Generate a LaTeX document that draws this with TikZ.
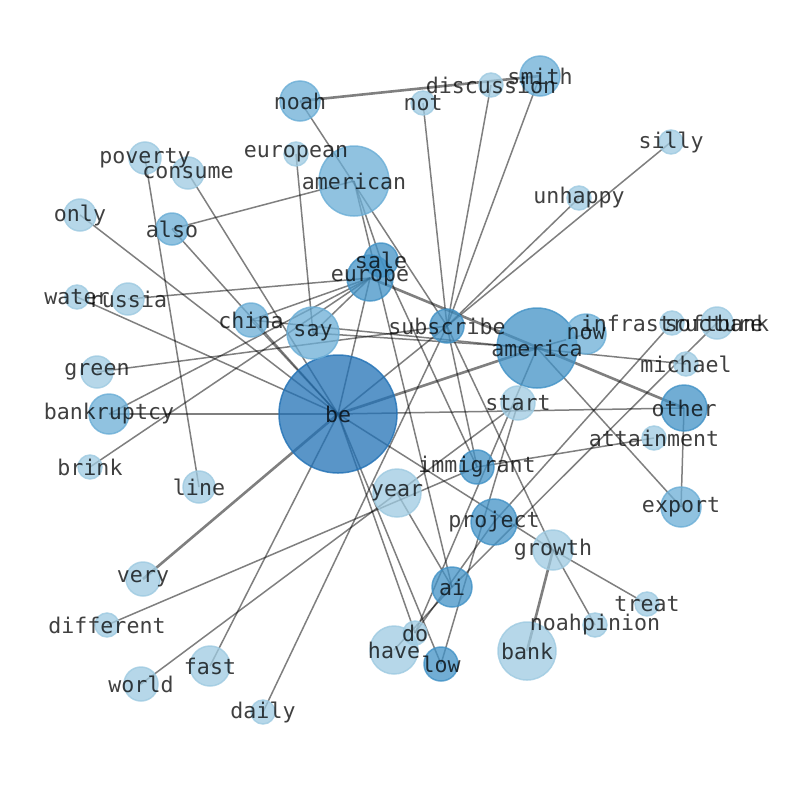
\documentclass[tikz,border=0pt]{standalone}
\usepackage{fontspec}
\newfontfamily\lblfont{DejaVu Sans Mono}
\pgfdeclarelayer{background}
\pgfsetlayers{background,main}
\definecolor{bdark}{HTML}{2171B5}
\definecolor{bmid}{HTML}{4292C6}
\definecolor{bsoft}{HTML}{6BAED6}
\definecolor{blight}{HTML}{9ECAE1}
\tikzset{
  wnode/.style={circle, inner sep=0pt, line width=1.5pt, fill opacity=0.75, draw opacity=0.8},
  wdark/.style={wnode, fill=bdark, draw=bdark},
  wmid/.style={wnode, fill=bmid, draw=bmid},
  wsoft/.style={wnode, fill=bsoft, draw=bsoft},
  wlight/.style={wnode, fill=blight, draw=blight},
  wlabel/.style={font=\lblfont\fontsize{21.6}{24}\selectfont, text=black, text opacity=0.75, inner sep=0pt},
  wedge/.style={draw=black, draw opacity=0.5, line width=1.5pt},
  wheavy/.style={wedge, line width=2.6pt}
}

\begin{document}
\begin{tikzpicture}[x=1pt,y=-1pt]
  \useasboundingbox (0,0) rectangle (794,790);
  % word circles
  \node[wdark,  minimum size=118] (be) at (338,414) {};
  \node[wmid,   minimum size=80] (america) at (537,348) {};
  \node[wsoft,  minimum size=70] (american) at (354,181) {};
  \node[wsoft,  minimum size=52] (say) at (313,333) {};
  \node[wmid,   minimum size=46] (europe) at (370,278) {};
  \node[wmid,   minimum size=34] (sale) at (381,260) {};
  \node[wmid,   minimum size=34] (subscribe) at (447,326) {};
  \node[wsoft,  minimum size=40] (now) at (586,334) {};
  \node[wsoft,  minimum size=34] (china) at (251,320) {};
  \node[wsoft,  minimum size=40] (noah) at (300,101) {};
  \node[wsoft,  minimum size=40] (smith) at (540,76) {};
  \node[wlight, minimum size=24] (discussion) at (491,85) {};
  \node[wlight, minimum size=24] (not) at (423,103) {};
  \node[wlight, minimum size=24] (european) at (296,154) {};
  \node[wlight, minimum size=32] (poverty) at (145,158) {};
  \node[wlight, minimum size=32] (consume) at (188,173) {};
  \node[wlight, minimum size=32] (only) at (80,215) {};
  \node[wsoft,  minimum size=32] (also) at (172,229) {};
  \node[wlight, minimum size=24] (silly) at (671,142) {};
  \node[wlight, minimum size=24] (unhappy) at (579,198) {};
  \node[wlight, minimum size=24] (water) at (77,297) {};
  \node[wlight, minimum size=32] (russia) at (128,299) {};
  \node[wlight, minimum size=32] (green) at (97,372) {};
  \node[wsoft,  minimum size=40] (bankruptcy) at (109,414) {};
  \node[wlight, minimum size=24] (brink) at (90,467) {};
  \node[wlight, minimum size=32] (line) at (199,487) {};
  \node[wlight, minimum size=24] (infrastructure) at (672,323) {};
  \node[wlight, minimum size=32] (softbank) at (717,323) {};
  \node[wlight, minimum size=24] (michael) at (686,364) {};
  \node[wmid,   minimum size=46] (other) at (684,408) {};
  \node[wlight, minimum size=34] (start) at (518,403) {};
  \node[wlight, minimum size=24] (attainment) at (654,438) {};
  \node[wmid,   minimum size=34] (immigrant) at (477,467) {};
  \node[wlight, minimum size=48] (year) at (397,493) {};
  \node[wmid,   minimum size=46] (project) at (494,522) {};
  \node[wsoft,  minimum size=40] (export) at (681,507) {};
  \node[wlight, minimum size=40] (growth) at (553,550) {};
  \node[wmid,   minimum size=40] (ai) at (452,587) {};
  \node[wlight, minimum size=24] (treat) at (647,604) {};
  \node[wlight, minimum size=24] (noahpinion) at (595,625) {};
  \node[wlight, minimum size=34] (very) at (143,579) {};
  \node[wlight, minimum size=24] (different) at (107,625) {};
  \node[wlight, minimum size=24] (do) at (415,633) {};
  \node[wlight, minimum size=48] (have) at (394,650) {};
  \node[wmid,   minimum size=34] (low) at (441,664) {};
  \node[wlight, minimum size=58] (bank) at (527,651) {};
  \node[wlight, minimum size=40] (fast) at (210,666) {};
  \node[wlight, minimum size=34] (world) at (141,684) {};
  \node[wlight, minimum size=24] (daily) at (263,712) {};
  % links, under the circles
  \begin{pgfonlayer}{background}
    \draw[wheavy] (noah.center) -- (smith.center);
    \draw[wedge] (noah.center) -- (subscribe.center);
    \draw[wedge] (not.center) -- (subscribe.center);
    \draw[wedge] (discussion.center) -- (subscribe.center);
    \draw[wedge] (smith.center) -- (subscribe.center);
    \draw[wedge] (silly.center) -- (subscribe.center);
    \draw[wedge] (unhappy.center) -- (subscribe.center);
    \draw[wedge] (european.center) -- (say.center);
    \draw[wedge] (poverty.center) -- (line.center);
    \draw[wedge] (consume.center) -- (be.center);
    \draw[wedge] (only.center) -- (be.center);
    \draw[wedge] (also.center) -- (be.center);
    \draw[wedge] (also.center) -- (american.center);
    \draw[wedge] (water.center) -- (be.center);
    \draw[wedge] (russia.center) -- (europe.center);
    \draw[wedge] (china.center) -- (be.center);
    \draw[wedge] (china.center) -- (europe.center);
    \draw[wedge] (china.center) -- (michael.center);
    \draw[wedge] (green.center) -- (subscribe.center);
    \draw[wedge] (bankruptcy.center) -- (be.center);
    \draw[wedge] (bankruptcy.center) -- (europe.center);
    \draw[wedge] (brink.center) -- (europe.center);
    \draw[wheavy] (very.center) -- (be.center);
    \draw[wedge] (different.center) -- (immigrant.center);
    \draw[wedge] (world.center) -- (start.center);
    \draw[wedge] (fast.center) -- (be.center);
    \draw[wedge] (daily.center) -- (subscribe.center);
    \draw[wheavy] (be.center) -- (america.center);
    \draw[wedge] (be.center) -- (subscribe.center);
    \draw[wedge] (be.center) -- (europe.center);
    \draw[wedge] (be.center) -- (other.center);
    \draw[wedge] (be.center) -- (growth.center);
    \draw[wedge] (be.center) -- (low.center);
    \draw[wedge] (be.center) -- (do.center);
    \draw[wedge] (say.center) -- (europe.center);
    \draw[wedge] (say.center) -- (america.center);
    \draw[wheavy] (europe.center) -- (other.center);
    \draw[wedge] (american.center) -- (sale.center);
    \draw[wedge] (american.center) -- (ai.center);
    \draw[wedge] (sale.center) -- (immigrant.center);
    \draw[wedge] (subscribe.center) -- (immigrant.center);
    \draw[wedge] (subscribe.center) -- (growth.center);
    \draw[wedge] (growth.center) -- (noahpinion.center);
    \draw[wedge] (growth.center) -- (treat.center);
    \draw[wheavy] (growth.center) -- (bank.center);
    \draw[wedge] (america.center) -- (now.center);
    \draw[wedge] (america.center) -- (export.center);
    \draw[wedge] (other.center) -- (export.center);
    \draw[wedge] (immigrant.center) -- (attainment.center);
    \draw[wedge] (infrastructure.center) -- (project.center);
    \draw[wedge] (softbank.center) -- (ai.center);
    \draw[wedge] (year.center) -- (ai.center);
    \draw[wedge] (start.center) -- (low.center);
    \draw[wedge] (do.center) -- (america.center);
    \draw[wedge] (do.center) -- (project.center);
    \draw[wedge] (have.center) -- (ai.center);
  \end{pgfonlayer}
  % words
  \node[wlabel] (be-t) at (be) {be};
  \node[wlabel] (america-t) at (america) {america};
  \node[wlabel] (american-t) at (american) {american};
  \node[wlabel] (say-t) at (say) {say};
  \node[wlabel] (europe-t) at (europe) {europe};
  \node[wlabel] (sale-t) at (sale) {sale};
  \node[wlabel] (subscribe-t) at (subscribe) {subscribe};
  \node[wlabel] (now-t) at (now) {now};
  \node[wlabel] (china-t) at (china) {china};
  \node[wlabel] (noah-t) at (noah) {noah};
  \node[wlabel] (smith-t) at (smith) {smith};
  \node[wlabel] (discussion-t) at (discussion) {discussion};
  \node[wlabel] (not-t) at (not) {not};
  \node[wlabel] (european-t) at (european) {european};
  \node[wlabel] (poverty-t) at (poverty) {poverty};
  \node[wlabel] (consume-t) at (consume) {consume};
  \node[wlabel] (only-t) at (only) {only};
  \node[wlabel] (also-t) at (also) {also};
  \node[wlabel] (silly-t) at (silly) {silly};
  \node[wlabel] (unhappy-t) at (unhappy) {unhappy};
  \node[wlabel] (water-t) at (water) {water};
  \node[wlabel] (russia-t) at (russia) {russia};
  \node[wlabel] (green-t) at (green) {green};
  \node[wlabel] (bankruptcy-t) at (bankruptcy) {bankruptcy};
  \node[wlabel] (brink-t) at (brink) {brink};
  \node[wlabel] (line-t) at (line) {line};
  \node[wlabel] (infrastructure-t) at (infrastructure) {infrastructure};
  \node[wlabel] (softbank-t) at (softbank) {softbank};
  \node[wlabel] (michael-t) at (michael) {michael};
  \node[wlabel] (other-t) at (other) {other};
  \node[wlabel] (start-t) at (start) {start};
  \node[wlabel] (attainment-t) at (attainment) {attainment};
  \node[wlabel] (immigrant-t) at (immigrant) {immigrant};
  \node[wlabel] (year-t) at (year) {year};
  \node[wlabel] (project-t) at (project) {project};
  \node[wlabel] (export-t) at (export) {export};
  \node[wlabel] (growth-t) at (growth) {growth};
  \node[wlabel] (ai-t) at (ai) {ai};
  \node[wlabel] (treat-t) at (treat) {treat};
  \node[wlabel] (noahpinion-t) at (noahpinion) {noahpinion};
  \node[wlabel] (very-t) at (very) {very};
  \node[wlabel] (different-t) at (different) {different};
  \node[wlabel] (do-t) at (do) {do};
  \node[wlabel] (have-t) at (have) {have};
  \node[wlabel] (low-t) at (low) {low};
  \node[wlabel] (bank-t) at (bank) {bank};
  \node[wlabel] (fast-t) at (fast) {fast};
  \node[wlabel] (world-t) at (world) {world};
  \node[wlabel] (daily-t) at (daily) {daily};
\end{tikzpicture}
\end{document}
